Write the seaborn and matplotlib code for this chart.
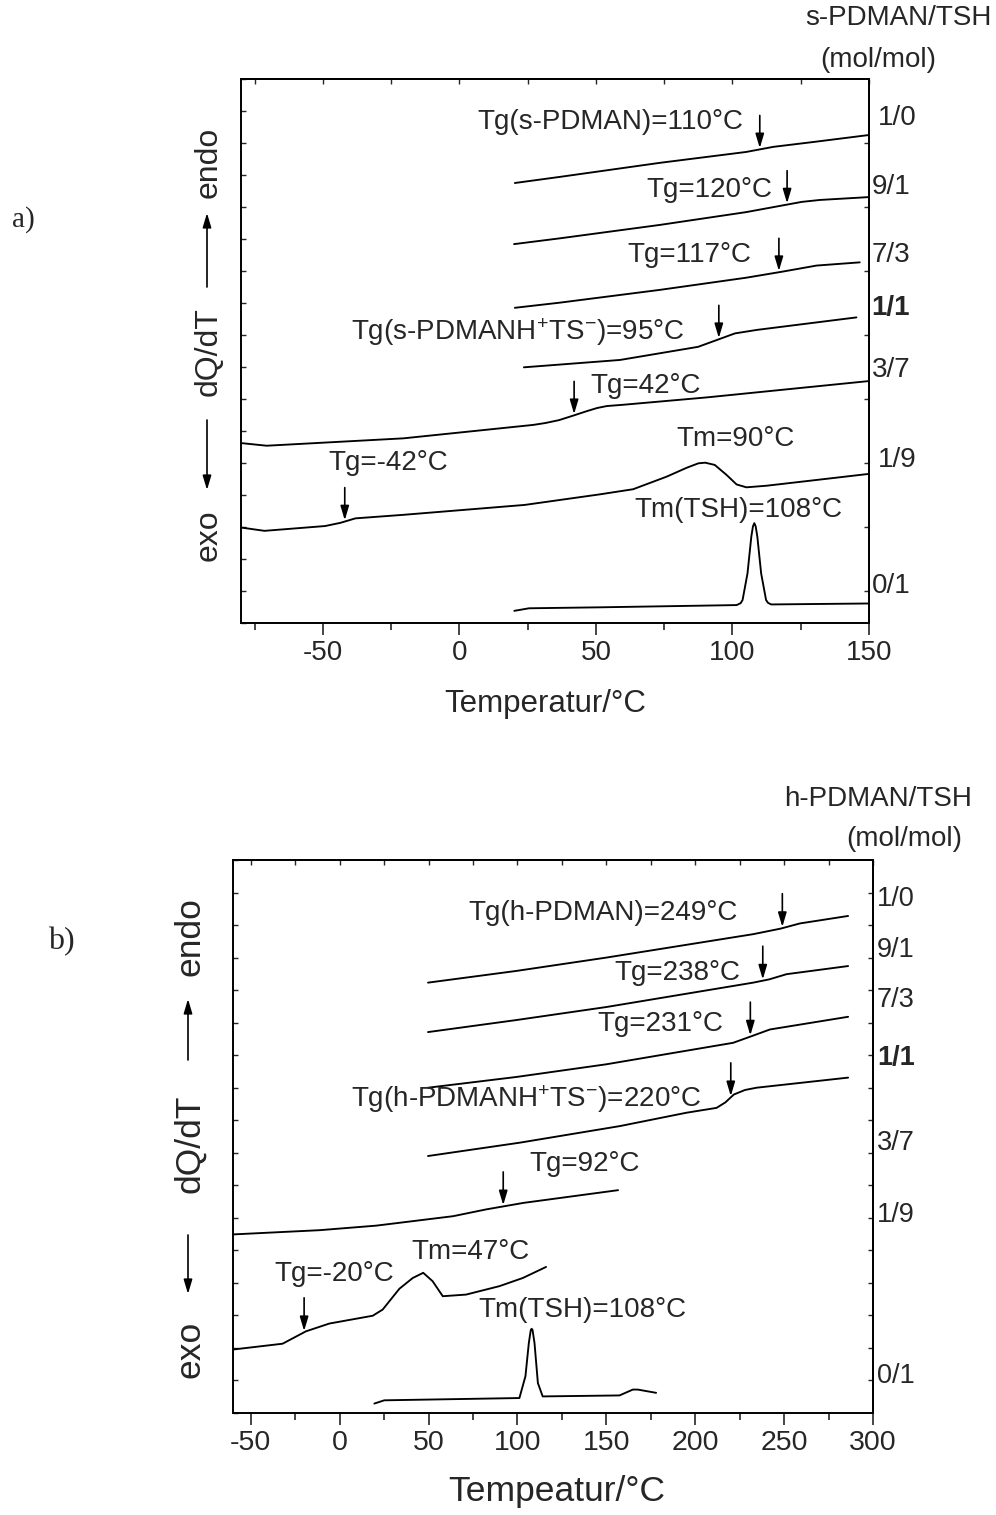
import numpy as np
import pandas as pd
import matplotlib
matplotlib.use("Agg")
import matplotlib.pyplot as plt
import matplotlib.transforms as mtransforms
from matplotlib.patches import FancyArrowPatch
from matplotlib.ticker import MultipleLocator, FixedLocator, NullLocator
import seaborn as sns

# ---------------------------------------------------------------------------
# (a) s-PDMAN / TSH blends  (DSC traces, arbitrary offset units)
# ---------------------------------------------------------------------------
A_RATIOS = ["1/0", "9/1", "7/3", "1/1", "3/7", "1/9", "0/1"]

A_T_10 = [20.3, 36.7, 73.4, 105.0, 115.0, 129.5, 150.0]
A_Q_10 = [13.75, 13.94, 14.38, 14.72, 14.88, 15.03, 15.25]

A_T_91 = [20.0, 36.7, 73.4, 105.0, 125.4, 132.0, 150.0]
A_Q_91 = [11.84, 12.02, 12.44, 12.84, 13.16, 13.22, 13.31]

A_T_73 = [20.3, 36.7, 73.4, 105.0, 118.3, 130.8, 146.6]
A_Q_73 = [9.85, 10.01, 10.41, 10.79, 10.98, 11.17, 11.27]

A_T_11 = [23.6, 58.8, 87.4, 100.9, 109.0, 145.4]
A_Q_11 = [7.99, 8.22, 8.63, 9.05, 9.16, 9.55]

A_T_37 = [-79.7, -70.6, -20.6, 27.0, 31.5, 36.5, 42.0, 47.0, 50.5, 54.0,
          60.0, 90.6, 149.9]
A_Q_37 = [5.62, 5.54, 5.77, 6.19, 6.25, 6.34, 6.49, 6.63, 6.72, 6.78,
          6.82, 7.05, 7.56]

A_T_19 = [-79.7, -71.4, -49.2, -43.6, -38.1, -20.6, 23.9, 51.4, 63.6, 75.8,
          83.2, 87.5, 90.0, 93.5, 97.8, 101.5, 105.1, 112.5, 130.8, 150.0]
A_Q_19 = [2.98, 2.88, 3.03, 3.13, 3.27, 3.38, 3.69, 4.02, 4.18, 4.57,
          4.85, 4.99, 5.01, 4.94, 4.63, 4.33, 4.24, 4.29, 4.47, 4.66]

A_T_01 = [20.1, 25.5, 51.4, 101.5, 103.0, 103.7, 105.5, 106.9, 107.5, 108.0,
          108.5, 109.1, 110.5, 112.3, 113.0, 114.2, 150.0]
A_Q_01 = [0.38, 0.46, 0.49, 0.56, 0.62, 0.72, 1.55, 2.70, 3.02, 3.12,
          3.02, 2.70, 1.55, 0.72, 0.63, 0.58, 0.61]

A_TG = [110, 120, 117, 95, 42, -42]          # glass transitions, curves 0..5
A_TG_CURVE = [0, 1, 2, 3, 4, 5]
A_TM = [90, 108]                            # melting peaks
A_TM_CURVE = [5, 6]

# ---------------------------------------------------------------------------
# (b) h-PDMAN / TSH blends
# ---------------------------------------------------------------------------
B_RATIOS = ["1/0", "9/1", "7/3", "1/1", "3/7", "1/9", "0/1"]

B_T_10 = [49.7, 99.4, 150.0, 232.6, 248.0, 258.9, 286.0]
B_Q_10 = [13.23, 13.59, 14.00, 14.72, 14.89, 15.05, 15.28]

B_T_91 = [49.7, 99.4, 150.0, 232.6, 241.6, 251.4, 286.0]
B_Q_91 = [11.71, 12.08, 12.48, 13.23, 13.33, 13.49, 13.74]

B_T_73 = [49.7, 99.4, 150.0, 221.3, 232.0, 242.0, 286.0]
B_Q_73 = [10.00, 10.33, 10.72, 11.38, 11.59, 11.79, 12.18]

B_T_11 = [49.7, 101.3, 157.6, 195.0, 212.0, 217.0, 221.7, 228.0, 234.5, 286.0]
B_Q_11 = [7.90, 8.31, 8.82, 9.23, 9.38, 9.55, 9.79, 9.93, 10.00, 10.31]

B_T_37 = [-60.0, -11.3, 20.6, 63.8, 82.5, 103.5, 156.6]
B_Q_37 = [5.49, 5.62, 5.76, 6.05, 6.26, 6.46, 6.85]

B_T_19 = [-60.2, -32.1, -19.0, -5.8, 18.6, 24.2, 33.6, 41.1, 47.0, 52.3,
          58.0, 71.1, 89.9, 103.0, 116.1]
B_Q_19 = [1.95, 2.13, 2.51, 2.75, 2.99, 3.18, 3.82, 4.15, 4.31, 4.05,
          3.59, 3.64, 3.90, 4.15, 4.49]

B_T_01 = [19.5, 25.1, 101.1, 104.5, 106.4, 107.5, 108.0, 108.5, 109.6, 111.5,
          114.2, 157.4, 164.9, 167.7, 178.0]
B_Q_01 = [0.29, 0.39, 0.46, 1.13, 2.15, 2.55, 2.59, 2.55, 2.15, 0.92,
          0.51, 0.54, 0.72, 0.72, 0.62]

B_TG = [249, 238, 231, 220, 92, -20]
B_TG_CURVE = [0, 1, 2, 3, 4, 5]
B_TM = [47, 108]
B_TM_CURVE = [5, 6]

# ---------------------------------------------------------------------------
# Styling
# ---------------------------------------------------------------------------
sns.set_style("ticks")
plt.rcParams["font.family"] = ["Liberation Sans", "DejaVu Sans"]
plt.rcParams["axes.unicode_minus"] = False
plt.rcParams["mathtext.fontset"] = "custom"
plt.rcParams["mathtext.rm"] = "Liberation Sans"
plt.rcParams["mathtext.it"] = "Liberation Sans:italic"
plt.rcParams["mathtext.bf"] = "Liberation Sans:bold"
plt.rcParams["mathtext.default"] = "regular"

W, H = 996, 1515
fig = plt.figure(figsize=(W / 100, H / 100), dpi=100)


def fx(px):
    return px / W


def fy(py):
    return 1 - py / H


def long_frame(ratios, ts, qs):
    parts = [pd.DataFrame({"T": t, "dQdT": q, "ratio": r})
             for r, t, q in zip(ratios, ts, qs)]
    return pd.concat(parts, ignore_index=True)


ARROW = "-|>,head_length=0.57,head_width=0.17"


def draw_panel(rect, ratios, ts, qs, xlim, right_ticks, tick_fs):
    ax = fig.add_axes(rect)
    df = long_frame(ratios, ts, qs)
    sns.lineplot(data=df, x="T", y="dQdT", hue="ratio", hue_order=ratios,
                 palette={r: "black" for r in ratios}, estimator=None,
                 sort=False, legend=False, linewidth=1.35,
                 solid_joinstyle="round", ax=ax)
    ax.set_xlim(*xlim)
    ax.set_ylim(0, 17)
    ax.set_ylabel("")
    ax.xaxis.set_major_locator(MultipleLocator(50))
    ax.xaxis.set_minor_locator(MultipleLocator(25))
    ax.tick_params(axis="x", which="major", direction="out", length=8.5,
                   width=1.2, labelsize=tick_fs, pad=3.5, top=False)
    ax.tick_params(axis="x", which="minor", direction="out", length=5,
                   width=1.2, top=False)
    ax.yaxis.set_major_locator(MultipleLocator(1))
    ax.yaxis.set_minor_locator(NullLocator())
    ax.tick_params(axis="y", which="major", direction="in", length=3.5,
                   width=1.0, left=True, right=False, labelleft=False)
    for s in ax.spines.values():
        s.set_visible(True)
        s.set_linewidth(1.4)
        s.set_color("black")

    top = ax.secondary_xaxis("top")
    top.xaxis.set_major_locator(MultipleLocator(25))
    top.xaxis.set_minor_locator(NullLocator())
    top.tick_params(axis="x", direction="in", length=3.5, width=1.0,
                    labeltop=False, labelbottom=False)
    top.spines["top"].set_linewidth(1.4)

    right = ax.secondary_yaxis("right")
    right.yaxis.set_major_locator(FixedLocator(right_ticks))
    right.yaxis.set_minor_locator(NullLocator())
    right.tick_params(axis="y", direction="in", length=3.5, width=1.0,
                      labelright=False, labelleft=False)
    right.spines["right"].set_linewidth(1.4)
    return ax


def tg_arrow(ax, t, curve_t, curve_q):
    tip = np.interp(t, curve_t, curve_q) + 0.04
    ax.annotate("", xy=(t, tip), xytext=(t, tip + 1.02),
                arrowprops=dict(arrowstyle=ARROW, mutation_scale=15, lw=1.2,
                                color="black", shrinkA=0, shrinkB=0))
    return tip


def axis_arrow(x_px, y0_px, y1_px):
    fig.add_artist(FancyArrowPatch((fx(x_px), fy(y0_px)), (fx(x_px), fy(y1_px)),
                                   transform=fig.transFigure, arrowstyle=ARROW,
                                   mutation_scale=15, lw=1.2, color="black",
                                   shrinkA=0, shrinkB=0))


# ---------------------------------------------------------------------------
# Panel (a)
# ---------------------------------------------------------------------------
a_ts = [A_T_10, A_T_91, A_T_73, A_T_11, A_T_37, A_T_19, A_T_01]
a_qs = [A_Q_10, A_Q_91, A_Q_73, A_Q_11, A_Q_37, A_Q_19, A_Q_01]
ax_a = draw_panel([fx(241), fy(623), (869 - 241) / W, (623 - 79) / H],
                  A_RATIOS, a_ts, a_qs, (-80, 150), np.arange(1, 17, 2), 20)
ax_a.set_xlabel("Temperatur/°C", fontsize=22.5)
ax_a.xaxis.set_label_coords(0.485, -0.163)
ax_a.xaxis.label.set_va("baseline")

a_tg_text = [
    "Tg(s-PDMAN)={}°C", "Tg={}°C", "Tg={}°C",
    "Tg(s-PDMANH$^{{+}}$TS$^{{-}}$)={}°C", "Tg={}°C", "Tg={}°C",
]
# text offsets (deg, from the arrow), text heights, alignment
a_tg_dx = [-5.9, -5.4, -10.1, -12.6, 5.8, -5.9]
a_tg_y = [15.66, 13.53, 11.50, 9.10, 7.41, 4.99]
a_tg_ha = ["right", "right", "right", "right", "left", "left"]
for tg, ci, fmt, dx, ty, ha in zip(A_TG, A_TG_CURVE, a_tg_text, a_tg_dx,
                                   a_tg_y, a_tg_ha):
    tg_arrow(ax_a, tg, a_ts[ci], a_qs[ci])
    ax_a.text(tg + dx, ty, fmt.format(tg), fontsize=20, ha=ha, va="center")

a_tm_text = ["Tm={}°C", "Tm(TSH)={}°C"]
a_tm_dx = [-10.5, -43.8]
a_tm_y = [5.74, 3.53]
for tm, fmt, dx, ty in zip(A_TM, a_tm_text, a_tm_dx, a_tm_y):
    ax_a.text(tm + dx, ty, fmt.format(tm), fontsize=20, ha="left", va="center")

blend_a = mtransforms.blended_transform_factory(ax_a.transAxes, ax_a.transData)
a_lab_y = [15.78, 13.63, 11.50, 9.84, 7.91, 5.09, 1.16]
a_lab_x = [1.014, 1.004, 1.004, 1.004, 1.004, 1.014, 1.004]
for r, lx, ly in zip(A_RATIOS, a_lab_x, a_lab_y):
    ax_a.text(lx, ly, r, transform=blend_a, fontsize=20, ha="left",
              va="center", fontweight="bold" if r == "1/1" else "normal")

fig.text(fx(898), fy(18), "s-PDMAN/TSH", fontsize=20, ha="center", va="center")
fig.text(fx(878), fy(60), "(mol/mol)", fontsize=20, ha="center", va="center")

fig.text(fx(209), fy(162), "endo", rotation=90, fontsize=23, ha="center", va="center")
fig.text(fx(209), fy(352), "dQ/dT", rotation=90, fontsize=23, ha="center", va="center")
fig.text(fx(209), fy(535), "exo", rotation=90, fontsize=23, ha="center", va="center")
axis_arrow(207, 287, 213)
axis_arrow(207, 420, 490)
fig.text(fx(23.5), fy(220), "a)", family=["Liberation Serif"], fontsize=21,
         ha="center", va="center")

# ---------------------------------------------------------------------------
# Panel (b)
# ---------------------------------------------------------------------------
b_ts = [B_T_10, B_T_91, B_T_73, B_T_11, B_T_37, B_T_19, B_T_01]
b_qs = [B_Q_10, B_Q_91, B_Q_73, B_Q_11, B_Q_37, B_Q_19, B_Q_01]
ax_b = draw_panel([fx(233), fy(1413), (873 - 233) / W, (1413 - 860) / H],
                  B_RATIOS, b_ts, b_qs, (-60, 300), np.arange(1, 17, 1), 20.5)
ax_b.set_xlabel("Tempeatur/°C", fontsize=25.5)
ax_b.xaxis.set_label_coords(0.506, -0.160)
ax_b.xaxis.label.set_va("baseline")

b_tg_text = [
    "Tg(h-PDMAN)={}°C", "Tg={}°C", "Tg={}°C",
    "Tg(h-PDMANH$^{{+}}$TS$^{{-}}$)={}°C", "Tg={}°C", "Tg={}°C",
]
b_tg_dx = [-24.8, -12.7, -15.4, -16.3, 14.6, -16.5]
b_tg_y = [15.38, 13.54, 11.95, 9.64, 7.64, 4.26]
b_tg_ha = ["right", "right", "right", "right", "left", "left"]
for tg, ci, fmt, dx, ty, ha in zip(B_TG, B_TG_CURVE, b_tg_text, b_tg_dx,
                                   b_tg_y, b_tg_ha):
    tg_arrow(ax_b, tg, b_ts[ci], b_qs[ci])
    ax_b.text(tg + dx, ty, fmt.format(tg), fontsize=20, ha=ha, va="center")

b_tm_text = ["Tm={}°C", "Tm(TSH)={}°C"]
b_tm_dx = [-6.7, -30.2]
b_tm_y = [4.94, 3.18]
for tm, fmt, dx, ty in zip(B_TM, b_tm_text, b_tm_dx, b_tm_y):
    ax_b.text(tm + dx, ty, fmt.format(tm), fontsize=20, ha="left", va="center")

blend_b = mtransforms.blended_transform_factory(ax_b.transAxes, ax_b.transData)
b_lab_y = [15.80, 14.24, 12.70, 10.91, 8.30, 6.08, 1.15]
for r, ly in zip(B_RATIOS, b_lab_y):
    ax_b.text(1.006, ly, r, transform=blend_b, fontsize=19.5, ha="left",
              va="center", fontweight="bold" if r == "1/1" else "normal")

fig.text(fx(878), fy(798.6), "h-PDMAN/TSH", fontsize=20, ha="center", va="center")
fig.text(fx(904.5), fy(839.4), "(mol/mol)", fontsize=20, ha="center", va="center")

fig.text(fx(190), fy(936.8), "endo", rotation=90, fontsize=25.5, ha="center", va="center")
fig.text(fx(190), fy(1143.9), "dQ/dT", rotation=90, fontsize=25.5, ha="center", va="center")
fig.text(fx(190), fy(1349.3), "exo", rotation=90, fontsize=25.5, ha="center", va="center")
axis_arrow(188, 1060, 999)
axis_arrow(188, 1235, 1294)
fig.text(fx(61), fy(942), "b)", family=["Liberation Serif"], fontsize=23,
         ha="center", va="center")

fig.savefig("out.png", dpi=100, facecolor="white")
